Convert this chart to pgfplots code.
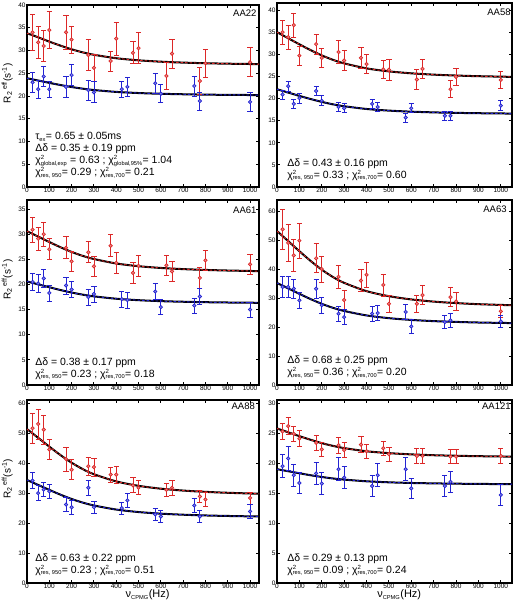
\documentclass[border=0pt]{standalone}
\usepackage{fontspec}
\setmainfont{Liberation Sans}
\usepackage{pgfplots}
\pgfplotsset{compat=1.18}
\definecolor{myred}{RGB}{220,40,40}
\definecolor{myblue}{RGB}{35,35,210}
\newcommand{\tsub}[1]{\textsubscript{\fontsize{5.7}{6}\selectfont #1}}
\newcommand{\chisq}[1]{χ\rlap{\textsuperscript{\fontsize{6}{6}\selectfont 2}}\tsub{#1}}
\newcommand{\rlab}{R\textsubscript{2}\,\textsuperscript{eff}(s\textsuperscript{-1})}
\tikzset{
  aalab/.style={anchor=north east, font=\fontsize{9.5}{11}\selectfont, inner sep=0pt},
  note/.style={anchor=north west, align=left, font=\fontsize{10.5}{12}\selectfont, inner sep=0pt},
}
\pgfplotsset{
  panel/.style={
    scale only axis, xmin=0, ymin=0,
    axis line style={line width=1.3pt},
    tick align=inside, xtick pos=both, ytick pos=both,
    major tick length=3pt,
    tick style={line width=0.9pt, black},
    xtick={0,100,...,1000},
    ticklabel style={font=\fontsize{6.5}{7}\selectfont},
    /pgf/number format/assume math mode=true,
    /pgf/number format/1000 sep={},
    scaled ticks=false,
    xticklabel style={inner sep=1pt},
    yticklabel style={inner sep=1.2pt},
    xlabel style={font=\fontsize{11}{12}\selectfont, at={(axis description cs:0.52,0)}, yshift=-12pt, anchor=center},
    ylabel style={font=\fontsize{10}{11}\selectfont, at={(axis description cs:-0.085,0.57)}, anchor=center},
  },
  redpts/.style={only marks, mark=*, mark size=1.7pt,
    mark options={fill=myred!55!white, draw=myred, line width=0.7pt},
    error bars/.cd, y dir=both, y explicit,
    error bar style={line width=0.8pt, myred},
    error mark options={rotate=90, mark size=2.6pt, line width=0.8pt, myred}},
  bluepts/.style={only marks, mark=*, mark size=1.7pt,
    mark options={fill=myblue!55!white, draw=myblue, line width=0.7pt},
    error bars/.cd, y dir=both, y explicit,
    error bar style={line width=0.8pt, myblue},
    error mark options={rotate=90, mark size=2.6pt, line width=0.8pt, myblue}},
  fitblack/.style={black, line width=2pt, smooth},
  fitred/.style={myred, line width=0.9pt, smooth, dash pattern=on 2.5pt off 2pt},
  fitblue/.style={myblue, line width=0.9pt, smooth, dash pattern=on 2.5pt off 2pt},
}
\begin{document}
\begin{tikzpicture}
% ---------------- AA22 ----------------
\begin{axis}[panel, at={(27pt,418pt)}, anchor=south west, width=232pt, height=182pt,
  xmax=1040, ymax=40, ytick={0,5,...,40}, ylabel={\rlab}]
\addplot[fitblack] coordinates {(0,33.8)(50,32.9)(100,31.95)(150,31.07)(200,30.26)(250,29.59)(300,29.06)(400,28.30)(500,27.84)(600,27.54)(700,27.34)(800,27.20)(900,27.10)(1040,27.0)};
\addplot[fitred] coordinates {(0,33.8)(50,32.9)(100,31.95)(150,31.07)(200,30.26)(250,29.59)(300,29.06)(400,28.30)(500,27.84)(600,27.54)(700,27.34)(800,27.20)(900,27.10)(1040,27.0)};
\addplot[fitblack] coordinates {(0,23.9)(50,23.40)(100,22.89)(150,22.41)(200,21.97)(250,21.61)(300,21.31)(400,20.90)(500,20.65)(600,20.49)(700,20.38)(800,20.30)(900,20.25)(1040,20.2)};
\addplot[fitblue] coordinates {(0,23.9)(50,23.40)(100,22.89)(150,22.41)(200,21.97)(250,21.61)(300,21.31)(400,20.90)(500,20.65)(600,20.49)(700,20.38)(800,20.30)(900,20.25)(1040,20.2)};
\addplot[redpts] table[x=x, y=y, y error=e, row sep=\\] {
x y e\\ 25 34.0 3.9\\ 50 31.8 3.6\\ 75 31.0 3.5\\ 100 34.5 4.0\\ 175 34.0 3.8\\ 200 32.4 3.0\\
275 29.0 3.4\\ 300 26.2 3.0\\ 375 27.7 2.2\\ 400 32.6 3.6\\ 475 29.5 2.4\\ 500 30.5 3.4\\
625 24.4 3.0\\ 650 29.3 3.2\\ 775 23.3 2.9\\ 800 27.2 3.1\\ 1000 27.4 3.2\\};
\addplot[bluepts] table[x=x, y=y, y error=e, row sep=\\] {
x y e\\ 25 23.0 2.1\\ 50 21.5 2.0\\ 75 24.3 2.3\\ 100 21.5 1.8\\ 175 22.0 2.2\\ 200 24.6 2.3\\
275 21.3 2.2\\ 300 20.8 2.3\\ 425 21.5 1.8\\ 450 22.0 2.0\\ 575 22.8 2.2\\ 600 20.5 2.0\\
750 22.2 2.2\\ 775 18.9 2.0\\ 1000 18.7 2.0\\};
\node[aalab] at (rel axis cs:0.99,0.975) {AA22};
\node[note] at (rel axis cs:0.035,0.30) {τ\tsub{ex}= 0.65 ± 0.05ms\\Δδ = 0.35 ± 0.19 ppm\\\chisq{global,exp} = 0.63 ; \chisq{global,95\%}= 1.04\\\chisq{res, 950}= 0.29 ; \chisq{res,700}= 0.21};
\end{axis}
% ---------------- AA58 ----------------
\begin{axis}[panel, at={(277pt,418pt)}, anchor=south west, width=235pt, height=184pt,
  xmax=1050, ymax=41.6, ytick={0,5,...,40}]
\addplot[fitblack] coordinates {(0,35.0)(50,33.63)(100,32.26)(150,30.94)(200,29.75)(250,28.75)(300,27.95)(400,26.82)(500,26.14)(600,25.70)(700,25.40)(800,25.20)(900,25.05)(1050,24.9)};
\addplot[fitred] coordinates {(0,35.0)(50,33.63)(100,32.26)(150,30.94)(200,29.75)(250,28.75)(300,27.95)(400,26.82)(500,26.14)(600,25.70)(700,25.40)(800,25.20)(900,25.05)(1050,24.9)};
\addplot[fitblack] coordinates {(0,22.1)(50,21.35)(100,20.6)(150,19.89)(200,19.24)(250,18.69)(300,18.26)(400,17.64)(500,17.27)(600,17.03)(700,16.87)(800,16.76)(900,16.68)(1050,16.6)};
\addplot[fitblue] coordinates {(0,22.1)(50,21.35)(100,20.6)(150,19.89)(200,19.24)(250,18.69)(300,18.26)(400,17.64)(500,17.27)(600,17.03)(700,16.87)(800,16.76)(900,16.68)(1050,16.6)};
\addplot[redpts] table[x=x, y=y, y error=e, row sep=\\] {
x y e\\ 25 35.0 2.7\\ 50 33.9 2.7\\ 75 36.6 2.7\\ 100 29.7 2.1\\ 175 32.3 2.3\\ 200 29.2 2.1\\
275 30.5 2.6\\ 300 28.6 2.3\\ 375 29.2 2.3\\ 400 27.8 2.1\\ 475 26.6 2.1\\ 500 26.5 2.3\\
625 24.3 2.2\\ 650 26.7 2.1\\ 775 22.1 1.9\\ 800 24.9 2.0\\ 1000 24.2 1.9\\};
\addplot[bluepts] table[x=x, y=y, y error=e, row sep=\\] {
x y e\\ 25 20.9 1.0\\ 50 22.8 1.1\\ 75 18.8 1.0\\ 100 20.1 1.1\\ 175 21.7 1.1\\ 200 19.5 1.1\\
275 18.1 1.0\\ 300 17.8 1.0\\ 425 18.8 1.0\\ 450 18.1 1.0\\ 575 15.7 1.0\\ 600 17.8 1.0\\
750 16.1 1.0\\ 775 16.1 1.0\\ 1000 18.4 1.1\\};
\node[aalab] at (rel axis cs:0.995,0.967) {AA58};
\node[note] at (rel axis cs:0.043,0.155) {Δδ = 0.43 ± 0.16 ppm\\\chisq{res, 950}= 0.33 ; \chisq{res,700}= 0.60};
\end{axis}
% ---------------- AA61 ----------------
\begin{axis}[panel, at={(27pt,220pt)}, anchor=south west, width=232pt, height=185pt,
  xmax=1040, ymax=36.8, ytick={0,5,...,35}, ylabel={\rlab}]
\addplot[fitblack] coordinates {(0,30.6)(50,29.52)(100,28.44)(150,27.4)(200,26.47)(250,25.68)(300,25.06)(400,24.17)(500,23.63)(600,23.28)(700,23.05)(800,22.89)(900,22.77)(1040,22.65)};
\addplot[fitred] coordinates {(0,30.6)(50,29.52)(100,28.44)(150,27.4)(200,26.47)(250,25.68)(300,25.06)(400,24.17)(500,23.63)(600,23.28)(700,23.05)(800,22.89)(900,22.77)(1040,22.65)};
\addplot[fitblack] coordinates {(0,20.6)(50,20.02)(100,19.45)(150,18.89)(200,18.39)(250,17.97)(300,17.63)(400,17.16)(500,16.87)(600,16.68)(700,16.56)(800,16.47)(900,16.41)(1040,16.35)};
\addplot[fitblue] coordinates {(0,20.6)(50,20.02)(100,19.45)(150,18.89)(200,18.39)(250,17.97)(300,17.63)(400,17.16)(500,16.87)(600,16.68)(700,16.56)(800,16.47)(900,16.41)(1040,16.35)};
\addplot[redpts] table[x=x, y=y, y error=e, row sep=\\] {
x y e\\ 25 30.9 2.5\\ 50 29.1 2.3\\ 75 30.0 2.4\\ 100 27.0 2.1\\ 175 27.3 2.2\\ 200 24.6 2.0\\
275 26.4 2.1\\ 300 23.6 2.0\\ 375 27.7 2.2\\ 400 24.3 2.1\\ 475 22.3 2.0\\ 500 23.7 2.0\\
625 23.8 2.0\\ 650 22.6 2.0\\ 775 21.3 2.0\\ 800 24.8 2.0\\ 1000 24.0 2.0\\};
\addplot[bluepts] table[x=x, y=y, y error=e, row sep=\\] {
x y e\\ 25 20.5 1.7\\ 50 20.2 1.7\\ 75 21.2 1.7\\ 100 18.3 1.6\\ 175 19.8 1.7\\ 200 19.0 1.6\\
275 17.5 1.6\\ 300 18.1 1.6\\ 425 17.1 1.6\\ 450 16.9 1.6\\ 575 18.6 1.6\\ 600 15.5 1.5\\
750 15.8 1.5\\ 775 17.6 1.6\\ 1000 15.0 1.5\\};
\node[aalab] at (rel axis cs:0.99,0.965) {AA61};
\node[note] at (rel axis cs:0.035,0.149) {Δδ = 0.38 ± 0.17 ppm\\\chisq{res, 950}= 0.23 ; \chisq{res,700}= 0.18};
\end{axis}
% ---------------- AA63 ----------------
\begin{axis}[panel, at={(277pt,220pt)}, anchor=south west, width=235pt, height=185pt,
  xmax=1050, ymax=63.8, ytick={0,10,...,60}]
\addplot[fitblack] coordinates {(0,53.1)(50,49.62)(100,46.15)(150,42.8)(200,39.78)(250,37.24)(300,35.23)(400,32.37)(500,30.63)(600,29.51)(700,28.76)(800,28.25)(900,27.87)(1050,27.5)};
\addplot[fitred] coordinates {(0,53.1)(50,49.62)(100,46.15)(150,42.8)(200,39.78)(250,37.24)(300,35.23)(400,32.37)(500,30.63)(600,29.51)(700,28.76)(800,28.25)(900,27.87)(1050,27.5)};
\addplot[fitblack] coordinates {(0,35.2)(50,33.32)(100,31.44)(150,29.63)(200,27.99)(250,26.62)(300,25.53)(400,23.99)(500,23.05)(600,22.44)(700,22.03)(800,21.76)(900,21.55)(1050,21.35)};
\addplot[fitblue] coordinates {(0,35.2)(50,33.32)(100,31.44)(150,29.63)(200,27.99)(250,26.62)(300,25.53)(400,23.99)(500,23.05)(600,22.44)(700,22.03)(800,21.76)(900,21.55)(1050,21.35)};
\addplot[redpts] table[x=x, y=y, y error=e, row sep=\\] {
x y e\\ 25 53.7 7.0\\ 50 49.0 6.5\\ 75 44.7 5.5\\ 100 49.8 6.0\\ 175 43.7 5.0\\ 200 40.0 4.5\\
275 37.3 4.0\\ 300 29.3 3.2\\ 375 36.0 3.8\\ 400 38.0 4.2\\ 475 34.5 3.8\\ 500 28.0 3.0\\
625 28.0 3.0\\ 650 31.0 3.2\\ 775 30.3 3.2\\ 800 28.8 3.0\\ 1000 25.4 2.0\\};
\addplot[bluepts] table[x=x, y=y, y error=e, row sep=\\] {
x y e\\ 25 33.8 3.5\\ 50 33.8 3.5\\ 75 33.2 3.3\\ 100 29.2 2.8\\ 175 33.2 3.3\\ 200 27.5 2.8\\
275 24.6 2.5\\ 300 23.4 2.5\\ 425 24.6 2.5\\ 450 24.8 2.5\\ 575 25.2 2.5\\ 600 20.2 2.3\\
750 21.7 2.3\\ 775 22.3 2.3\\ 1000 21.9 2.2\\};
\node[aalab] at (rel axis cs:0.978,0.97) {AA63};
\node[note] at (rel axis cs:0.043,0.156) {Δδ = 0.68 ± 0.25 ppm\\\chisq{res, 950}= 0.36 ; \chisq{res,700}= 0.20};
\end{axis}
% ---------------- AA88 ----------------
\begin{axis}[panel, at={(27pt,22pt)}, anchor=south west, width=232pt, height=183pt,
  xmax=1040, ymax=61.1, ytick={0,10,...,60},
  xlabel={ν\tsub{CPMG}(Hz)}, ylabel={\rlab}]
\addplot[fitblack] coordinates {(0,51.4)(50,48.47)(100,45.53)(150,42.71)(200,40.16)(250,38.02)(300,36.32)(400,33.92)(500,32.44)(600,31.49)(700,30.86)(800,30.43)(900,30.12)(1040,29.8)};
\addplot[fitred] coordinates {(0,51.4)(50,48.47)(100,45.53)(150,42.71)(200,40.16)(250,38.02)(300,36.32)(400,33.92)(500,32.44)(600,31.49)(700,30.86)(800,30.43)(900,30.12)(1040,29.8)};
\addplot[fitblack] coordinates {(0,34.4)(50,32.74)(100,31.09)(150,29.49)(200,28.05)(250,26.84)(300,25.88)(400,24.52)(500,23.69)(600,23.15)(700,22.8)(800,22.55)(900,22.38)(1040,22.2)};
\addplot[fitblue] coordinates {(0,34.4)(50,32.74)(100,31.09)(150,29.49)(200,28.05)(250,26.84)(300,25.88)(400,24.52)(500,23.69)(600,23.15)(700,22.8)(800,22.55)(900,22.38)(1040,22.2)};
\addplot[redpts] table[x=x, y=y, y error=e, row sep=\\] {
x y e\\ 25 51.7 5.0\\ 50 53.1 5.0\\ 75 51.2 4.8\\ 100 44.6 3.5\\ 175 41.4 4.0\\ 200 37.8 3.3\\
275 39.0 3.0\\ 300 38.7 3.0\\ 375 36.2 2.5\\ 400 36.2 2.8\\ 475 32.6 2.5\\ 500 31.8 2.3\\
625 31.1 2.3\\ 650 31.8 2.5\\ 775 28.9 2.0\\ 800 27.9 2.3\\ 1000 28.4 2.0\\};
\addplot[bluepts] table[x=x, y=y, y error=e, row sep=\\] {
x y e\\ 25 34.2 2.7\\ 50 30.0 2.5\\ 75 31.2 2.3\\ 100 30.6 2.3\\ 175 26.2 2.3\\ 200 25.3 2.3\\
275 31.8 2.5\\ 300 25.3 2.0\\ 425 25.0 2.0\\ 450 27.6 2.3\\ 575 22.9 2.0\\ 600 22.2 2.0\\
750 25.9 2.3\\ 775 22.2 2.0\\ 1000 23.9 2.3\\};
\node[aalab] at (rel axis cs:0.983,0.984) {AA88};
\node[note] at (rel axis cs:0.035,0.161) {Δδ = 0.63 ± 0.22 ppm\\\chisq{res, 950}= 0.23 ; \chisq{res,700}= 0.51};
\end{axis}
% ---------------- AA121 ----------------
\begin{axis}[panel, at={(277pt,22pt)}, anchor=south west, width=235pt, height=183pt,
  xmax=1050, ymax=30.55, ytick={0,5,...,30},
  xlabel={ν\tsub{CPMG}(Hz)}]
\addplot[fitblack] coordinates {(0,25.8)(50,25.16)(100,24.52)(150,23.91)(200,23.35)(250,22.89)(300,22.52)(400,21.99)(500,21.68)(600,21.47)(700,21.33)(800,21.24)(900,21.17)(1050,21.1)};
\addplot[fitred] coordinates {(0,25.8)(50,25.16)(100,24.52)(150,23.91)(200,23.35)(250,22.89)(300,22.52)(400,21.99)(500,21.68)(600,21.47)(700,21.33)(800,21.24)(900,21.17)(1050,21.1)};
\addplot[fitblack] coordinates {(0,19.0)(50,18.66)(100,18.32)(150,17.99)(200,17.7)(250,17.45)(300,17.26)(400,16.98)(500,16.81)(600,16.70)(700,16.63)(800,16.58)(900,16.54)(1050,16.5)};
\addplot[fitblue] coordinates {(0,19.0)(50,18.66)(100,18.32)(150,17.99)(200,17.7)(250,17.45)(300,17.26)(400,16.98)(500,16.81)(600,16.70)(700,16.63)(800,16.58)(900,16.54)(1050,16.5)};
\addplot[redpts] table[x=x, y=y, y error=e, row sep=\\] {
x y e\\ 25 25.3 1.3\\ 50 26.2 1.4\\ 75 24.9 1.3\\ 100 24.1 1.3\\ 175 23.4 1.3\\ 200 22.3 1.2\\
275 23.0 1.3\\ 300 22.2 1.2\\ 375 23.1 1.3\\ 400 22.0 1.2\\ 475 22.5 1.2\\ 500 21.5 1.2\\
625 21.2 1.2\\ 650 21.2 1.2\\ 775 21.1 1.2\\ 800 21.1 1.2\\ 1000 21.2 1.2\\};
\addplot[bluepts] table[x=x, y=y, y error=e, row sep=\\] {
x y e\\ 25 19.5 1.9\\ 50 20.8 2.0\\ 75 18.0 1.8\\ 100 16.7 1.7\\ 175 18.3 1.9\\ 200 16.6 1.8\\
275 19.0 1.9\\ 300 17.6 1.8\\ 425 16.2 1.8\\ 450 18.0 1.9\\ 575 19.0 1.9\\ 600 15.8 1.7\\
750 16.2 1.8\\ 775 16.9 1.8\\ 1000 14.7 1.7\\};
\node[aalab] at (rel axis cs:0.995,0.984) {AA121};
\node[note] at (rel axis cs:0.043,0.161) {Δδ = 0.29 ± 0.13 ppm\\\chisq{res, 950}= 0.09 ; \chisq{res,700}= 0.24};
\end{axis}
\pgfresetboundingbox
\path (0pt,0pt) rectangle (514pt,605pt);
\end{tikzpicture}
\end{document}
